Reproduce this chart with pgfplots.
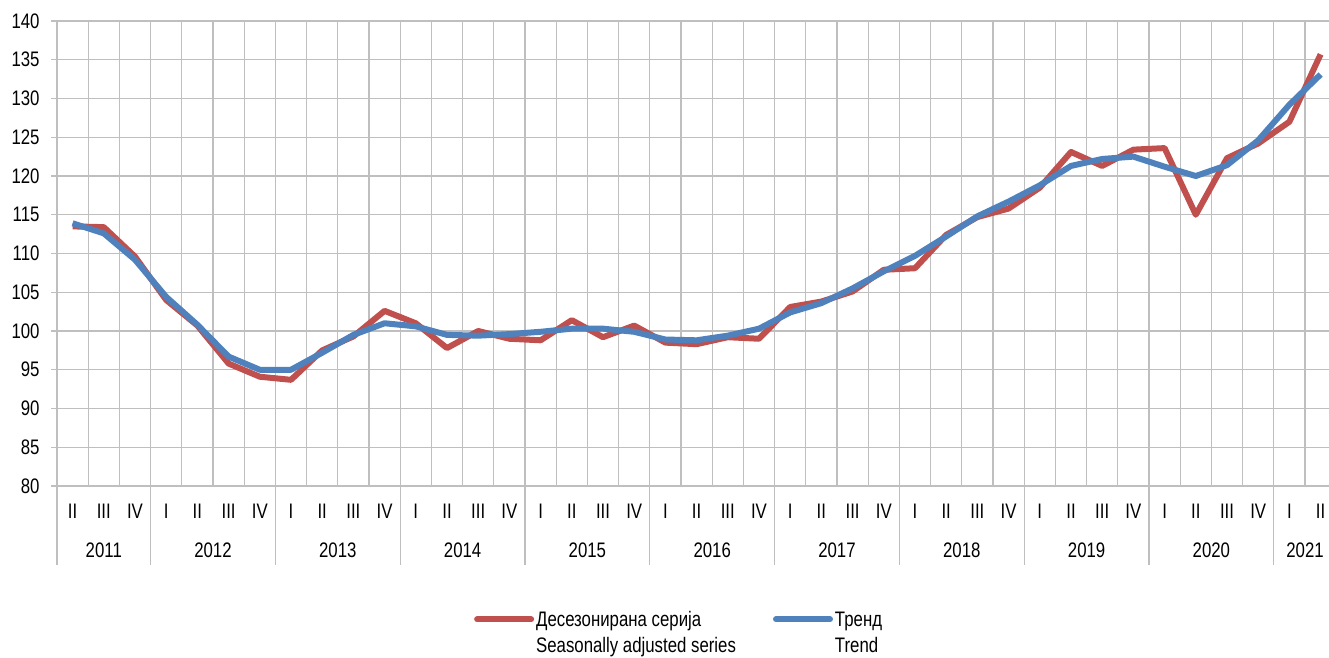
\documentclass[border=0pt]{standalone}
\usepackage{pgfplots}
\pgfplotsset{compat=1.18}
\usepackage{fontspec}
\setmainfont{Liberation Sans}[FakeStretch=0.8]
\definecolor{sared}{RGB}{192,80,77}
\definecolor{trblue}{RGB}{79,129,189}
\definecolor{gridg}{RGB}{191,191,191}
\pgfplotstableread{
i red blue
0 113.5 113.9
1 113.4 112.6
2 109.6 109.2
3 104.0 104.4
4 100.7 100.8
5 95.8 96.7
6 94.1 95.0
7 93.7 95.0
8 97.5 97.2
9 99.3 99.5
10 102.6 101.0
11 101.0 100.6
12 97.8 99.5
13 100.0 99.4
14 99.0 99.6
15 98.8 99.9
16 101.4 100.3
17 99.2 100.3
18 100.7 99.9
19 98.5 98.9
20 98.3 98.8
21 99.2 99.4
22 99.0 100.3
23 103.1 102.4
24 103.8 103.6
25 105.1 105.5
26 107.9 107.7
27 108.1 109.7
28 112.4 112.2
29 114.7 114.8
30 115.8 116.7
31 118.5 118.8
32 123.1 121.3
33 121.3 122.2
34 123.4 122.5
35 123.6 121.2
36 115.0 120.0
37 122.3 121.4
38 124.2 124.6
39 127.0 129.2
40 135.7 133.1
}\datatable
\begin{document}
\fontsize{21}{26}\selectfont
\begin{tikzpicture}
\path[use as bounding box] (0pt,0pt) rectangle (1329pt,657pt);
\begin{axis}[
  at={(57pt,171pt)}, anchor=south west,
  scale only axis, width=1279.2pt, height=465pt,
  xmin=-0.5, xmax=40.5, ymin=80, ymax=140,
  clip=false,
  font=\fontsize{21}{26}\selectfont,
  /pgf/number format/assume math mode=true,
  tick pos=left,
  ytick={80,85,...,140},
  ymajorgrids,
  tick align=outside,
  ytick style={gridg, line width=1.2pt, /pgfplots/major tick length=6pt},
  xtick={0,...,40},
  xticklabels={II,III,IV,I,II,III,IV,I,II,III,IV,I,II,III,IV,I,II,III,IV,I,II,III,IV,I,II,III,IV,I,II,III,IV,I,II,III,IV,I,II,III,IV,I,II},
  xtick style={draw=none},
  minor xtick={-0.5,0.5,...,40.5},
  xminorgrids,
  minor x tick style={gridg, line width=1.2pt},
  minor tick length=41pt,
  extra x ticks={-0.5,2.5,6.5,10.5,14.5,18.5,22.5,26.5,30.5,34.5,38.5},
  extra x tick labels={},
  extra x tick style={grid=none, xtick style={draw=gridg, line width=1.2pt, /pgfplots/major tick length=79pt}},
  grid style={gridg, line width=1.2pt},
  minor grid style={gridg, line width=1.2pt},
  axis line style={gridg, line width=1.2pt},
  xticklabel style={yshift=-7pt},
  yticklabel style={xshift=-6pt},
  legend columns=2,
  legend cell align=left,
  legend style={at={(rel axis cs:0.3236,-0.255)}, anchor=north west, draw=none, fill=none,
    font=\fontsize{21}{26}\selectfont,
    /tikz/every even column/.append style={column sep=35pt}},
  legend image code/.code={\draw[#1, line cap=round] (0pt,0pt) -- (54pt,0pt);},
]
\addplot[sared, line width=6pt, line join=round] table[x=i, y=red] {\datatable};
\addlegendentry{\begin{tabular}[t]{@{}l@{}}Десезонирана серија\\Seasonally adjusted series\end{tabular}}
\addplot[trblue, line width=6pt, line join=round] table[x=i, y=blue] {\datatable};
\addlegendentry{\begin{tabular}[t]{@{}l@{}}Тренд\\Trend\end{tabular}}
\node at (axis cs:1,80) [yshift=-64pt] {2011};
\node at (axis cs:4.5,80) [yshift=-64pt] {2012};
\node at (axis cs:8.5,80) [yshift=-64pt] {2013};
\node at (axis cs:12.5,80) [yshift=-64pt] {2014};
\node at (axis cs:16.5,80) [yshift=-64pt] {2015};
\node at (axis cs:20.5,80) [yshift=-64pt] {2016};
\node at (axis cs:24.5,80) [yshift=-64pt] {2017};
\node at (axis cs:28.5,80) [yshift=-64pt] {2018};
\node at (axis cs:32.5,80) [yshift=-64pt] {2019};
\node at (axis cs:36.5,80) [yshift=-64pt] {2020};
\node at (axis cs:39.5,80) [yshift=-64pt] {2021};
\end{axis}
\end{tikzpicture}
\end{document}
